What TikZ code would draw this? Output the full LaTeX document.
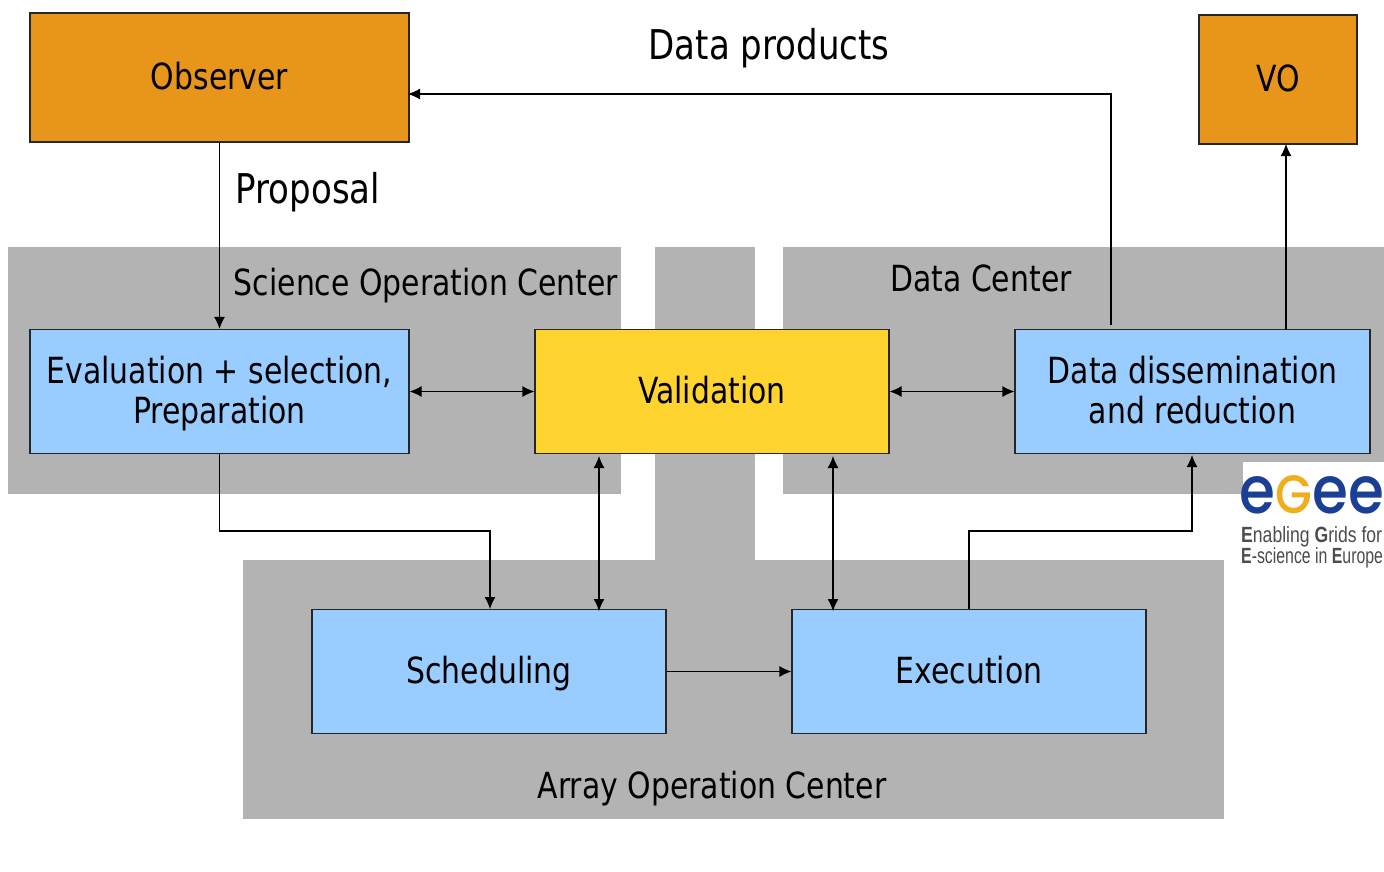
\documentclass[tikz,border=0pt]{standalone}
\usepackage{fontspec}
\setmainfont{DejaVu Sans}[FakeStretch=0.83]
\newfontfamily\logofont{Poppins Medium}[FakeStretch=0.88]
\newfontfamily\logotext{Liberation Sans}[FakeStretch=0.8]
\newfontfamily\logotextb{Liberation Sans}[FakeStretch=0.72]
\usetikzlibrary{arrows.meta}
\definecolor{zonegray}{HTML}{B3B3B3}
\definecolor{boxorange}{HTML}{E8951B}
\definecolor{boxblue}{HTML}{99CCFF}
\definecolor{boxyellow}{HTML}{FFD42E}
\definecolor{egeeblue}{HTML}{1B3F94}
\definecolor{egeegold}{HTML}{F0AE1E}
\begin{document}
\begin{tikzpicture}[x=1pt, y=-1pt,
  every node/.style = {font=\fontsize{36}{40}\selectfont, align=center, inner sep=0pt},
  zone/.style = {fill=zonegray, draw=none},
  frame/.style = {draw=black!85, line width=1.2pt, minimum height=124pt},
  box/.style = {frame, text height=23.5pt, text depth=0pt},
  bigger/.style = {font=\fontsize{41}{45}\selectfont},
  link/.style = {draw=black, line width=1.2pt, -{Latex[length=12pt,width=11pt]}},
  both/.style = {link, {Latex[length=12pt,width=11pt]}-{Latex[length=12pt,width=11pt]}}]
  \useasboundingbox (0,0) rectangle (1384,871);
  % gray zones
  \fill [zone] (8,247) rectangle (621,494);
  \fill [zone] (655,247) rectangle (755,560);
  \fill [zone] (783,247) rectangle (1384,494);
  \fill [zone] (243,560) rectangle (1224,819);
  % boxes
  \node (observer) [box, fill=boxorange, minimum width=379pt, minimum height=129pt] at (219.5,77.5) {Observer};
  \node (vo) [box, fill=boxorange, minimum width=158pt, minimum height=129pt] at (1278,79.5) {VO};
  \node (evaluation) [frame, fill=boxblue, minimum width=379pt] at (219.5,391.5) {\rule{0pt}{31pt}Evaluation + selection,\\Preparation};
  \node (validation) [box, fill=boxyellow, minimum width=354pt] at (712,391.5) {Validation};
  \node (dissemination) [frame, fill=boxblue, minimum width=355pt] at (1192.5,391.5) {\rule{0pt}{31pt}Data dissemination\\\rule[-8pt]{0pt}{8pt}and reduction};
  \node (scheduling) [box, fill=boxblue, minimum width=354pt] at (489,671.5) {Scheduling};
  \node (execution) [box, fill=boxblue, minimum width=354pt] at (969,671.5) {Execution};
  % labels
  \node (products) [bigger] at (769,48) {Data products};
  \node (proposal) [bigger] at (308,192) {Proposal};
  \node (soc) at (426,286) {Science Operation Center};
  \node (dc) at (981,278) {Data Center};
  \node (aoc) at (712,789) {Array Operation Center};
  % connector ends off the box centres
  \coordinate (obsin) at (408,94);
  \coordinate (dissout) at (1111,325);
  \coordinate (voin) at (1286,144);
  \coordinate (dissvo) at (1286,330);
  \coordinate (valleft) at (599,456);
  \coordinate (schedright) at (599,611);
  \coordinate (valright) at (833,456);
  \coordinate (execleft) at (833,611);
  \coordinate (schedin) at (490,609);
  \coordinate (dissin) at (1192,455);
  % connectors
  \draw [link] (observer.south) -- (evaluation.north);
  \draw [link] (dissout) |- (obsin);
  \draw [link] (dissvo) -- (voin);
  \draw [both] (evaluation.east) -- (validation.west);
  \draw [both] (validation.east) -- (dissemination.west);
  \draw [both] (valleft) -- (schedright);
  \draw [both] (valright) -- (execleft);
  \draw [link] (evaluation.south) |- (355,531) -| (schedin);
  \draw [link] (execution.north) |- (1080,531) -| (dissin);
  \draw [link] (scheduling.east) -- (execution.west);
  % logo
  \fill [white] (1243,462) rectangle (1384,570);
  \node (egee) [anchor=base] at (1312,513) {\logofont\fontsize{66}{66}\selectfont\textcolor{egeeblue}{e}\textcolor{egeegold}{\fontsize{54}{54}\selectfont G}\textcolor{egeeblue}{ee}};
  \node (enabling) [anchor=west, text=black!70] at (1241,537) {\logotext\fontsize{22}{22}\selectfont\textbf{E}nabling \textbf{G}rids for};
  \node (escience) [anchor=west, text=black!70] at (1241,558) {\logotextb\fontsize{22}{22}\selectfont\textbf{E}-science in \textbf{E}urope};
\end{tikzpicture}
\end{document}
